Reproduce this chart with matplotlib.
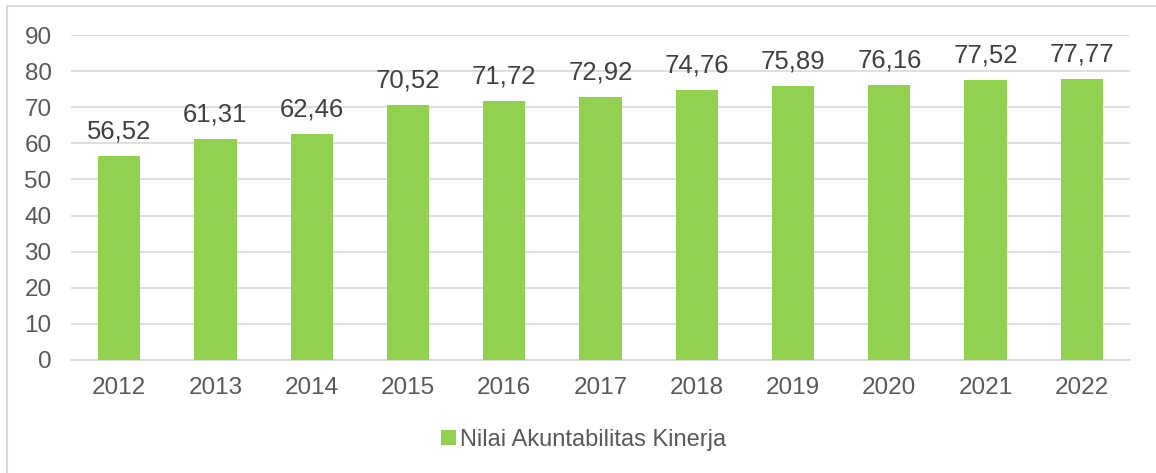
import matplotlib
matplotlib.use("Agg")
import matplotlib.pyplot as plt
from matplotlib.patches import Rectangle

# --- DATA ---
years = ["2012", "2013", "2014", "2015", "2016", "2017",
         "2018", "2019", "2020", "2021", "2022"]
scores = [56.52, 61.31, 62.46, 70.52, 71.72, 72.92,
          74.76, 75.89, 76.16, 77.52, 77.77]
series_name = "Nilai Akuntabilitas Kinerja"

BAR_COLOR = "#92D050"
GRID_COLOR = "#D9D9D9"
TEXT_COLOR = "#595959"

plt.rcParams["font.family"] = ["Liberation Sans", "DejaVu Sans"]

fig = plt.figure(figsize=(11.56, 4.73), dpi=100)
ax = fig.add_axes([71 / 1156, 1 - 360 / 473, (1130 - 71) / 1156, (360 - 35) / 473])

x = range(len(years))
bars = ax.bar(x, scores, width=0.44, color=BAR_COLOR, label=series_name, zorder=3)

for rect, val in zip(bars, scores):
    ax.annotate(f"{val:.2f}".replace(".", ","),
                (rect.get_x() + rect.get_width() / 2, val),
                xytext=(0, 9), textcoords="offset points",
                ha="center", va="bottom", fontsize=18.5, color="#404040")

ax.set_xlim(-0.5, len(years) - 0.5)
ax.set_ylim(0, 90)
ax.set_yticks(range(0, 91, 10))
ax.set_xticks(list(x))
ax.set_xticklabels(years)
ax.yaxis.grid(True, color=GRID_COLOR, linewidth=1.2, zorder=0)
ax.tick_params(axis="both", length=0, labelsize=17.5, colors=TEXT_COLOR)
ax.tick_params(axis="y", pad=14)
ax.tick_params(axis="x", pad=12)
for side in ["top", "right", "left"]:
    ax.spines[side].set_visible(False)
ax.spines["bottom"].set_color(GRID_COLOR)
ax.spines["bottom"].set_linewidth(1.2)

leg = fig.legend(loc="center", bbox_to_anchor=(584 / 1156, 1 - 440 / 473),
                 frameon=False, fontsize=17, handlelength=0.6, handleheight=0.6,
                 handletextpad=0.2)
for t in leg.get_texts():
    t.set_color(TEXT_COLOR)

# outer chart border
fig.patches.append(Rectangle((7 / 1156, -0.1), 1.2, 1 - 6 / 473 + 0.1,
                             transform=fig.transFigure, fill=False,
                             edgecolor=GRID_COLOR, linewidth=1.5))

fig.savefig("out.png", dpi=100)
